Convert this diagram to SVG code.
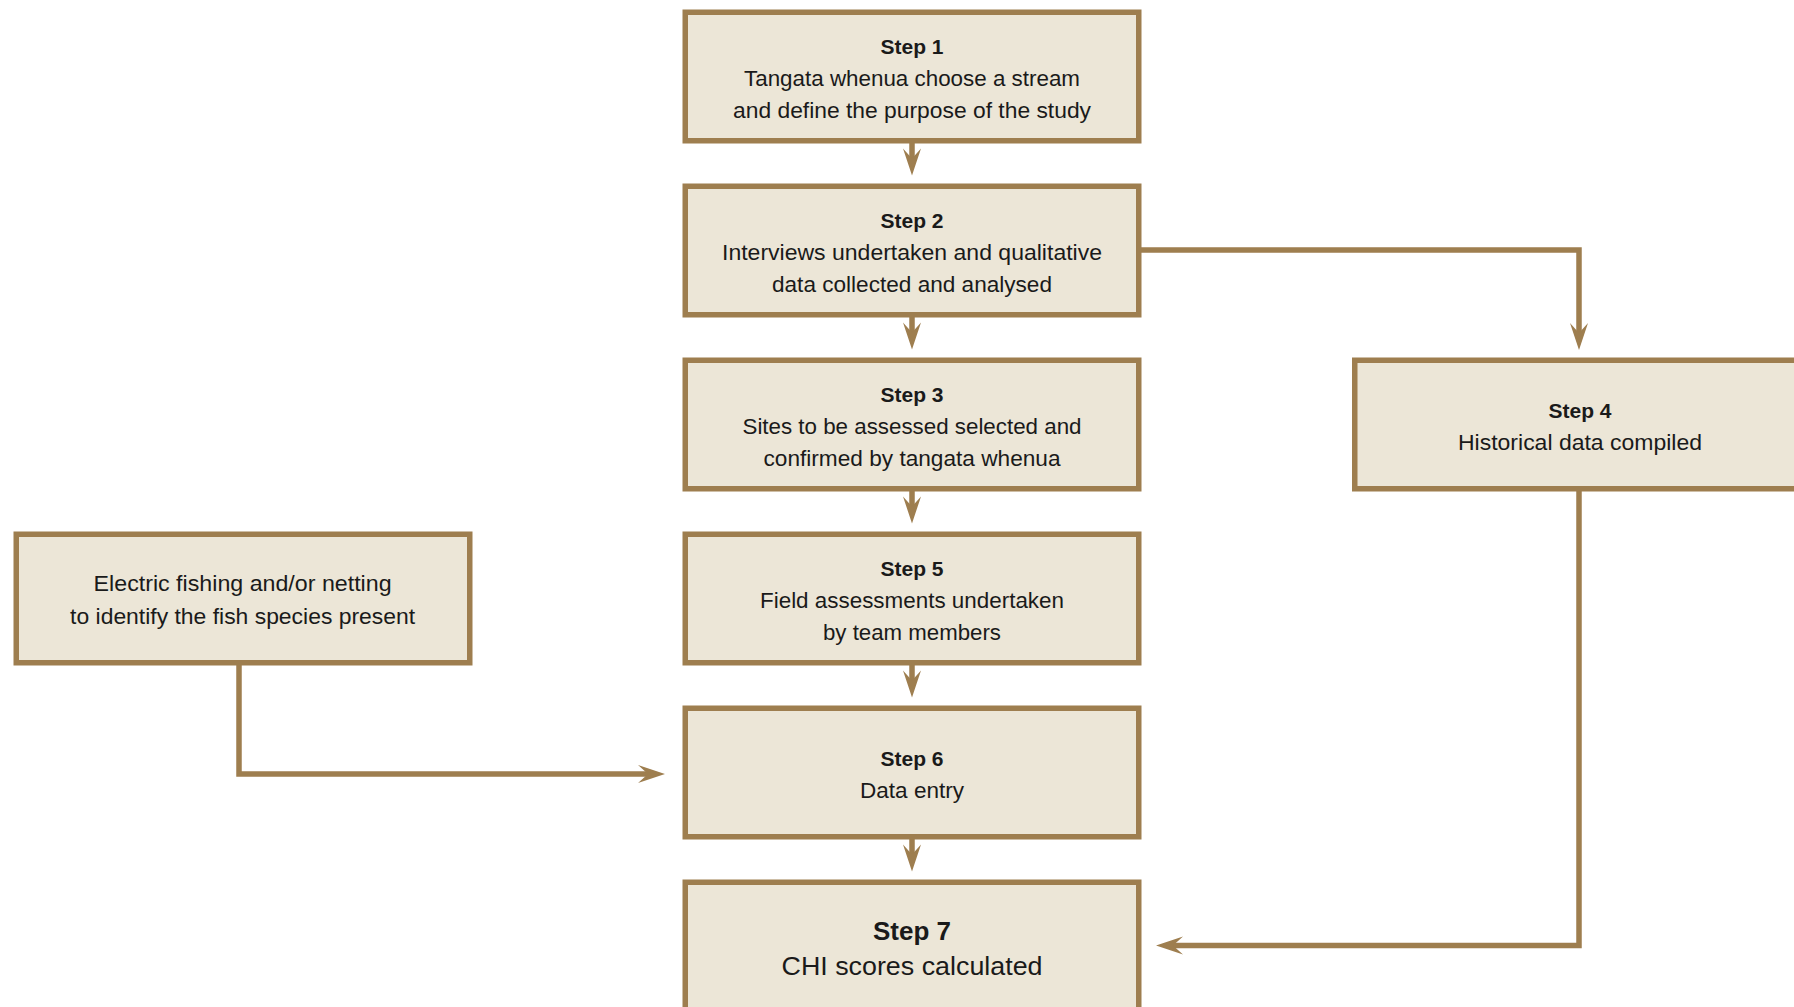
<svg xmlns="http://www.w3.org/2000/svg" width="1794" height="1007" viewBox="0 0 1794 1007">
<style>
.box{fill:#ECE6D7;stroke:#9E7E4F;stroke-width:5.5}
.t{font-family:"Liberation Sans",Arial,sans-serif;font-size:22px;fill:#1a1a1a;text-anchor:middle}
.b{font-weight:bold;font-size:21px}
.c{fill:none;stroke:#9E7E4F;stroke-width:5.5}
</style>
<defs>
<marker id="ah" viewBox="-28 -10 30 20" refX="-16" refY="0" markerWidth="30" markerHeight="20" markerUnits="userSpaceOnUse" orient="auto">
<path d="M0,0 L-27,-9 L-17,0 L-27,9 Z" fill="#9E7E4F"/>
</marker>
</defs>
<rect width="1794" height="1007" fill="#ffffff"/>
<g id="connectors">
<line class="c" x1="912" y1="143" x2="912" y2="159.5" marker-end="url(#ah)"/>
<line class="c" x1="912" y1="317" x2="912" y2="333.5" marker-end="url(#ah)"/>
<line class="c" x1="912" y1="491" x2="912" y2="507.5" marker-end="url(#ah)"/>
<line class="c" x1="912" y1="665" x2="912" y2="681.5" marker-end="url(#ah)"/>
<line class="c" x1="912" y1="839" x2="912" y2="855.5" marker-end="url(#ah)"/>
<polyline class="c" points="1141,250 1579,250 1579,334" marker-end="url(#ah)"/>
<polyline class="c" points="1579,490 1579,945.5 1172,945.5" marker-end="url(#ah)"/>
<polyline class="c" points="239,665 239,774 649,774" marker-end="url(#ah)"/>
</g>
<g id="step1">
<rect class="box" x="685.25" y="12.25" width="453.5" height="128.5"/>
<text class="t b" x="912" y="53.5">Step 1</text>
<text class="t" x="912" y="86" textLength="336" lengthAdjust="spacingAndGlyphs">Tangata whenua choose a stream</text>
<text class="t" x="912" y="118" textLength="358" lengthAdjust="spacingAndGlyphs">and define the purpose of the study</text>
</g>
<g id="step2">
<rect class="box" x="685.25" y="186.25" width="453.5" height="128.5"/>
<text class="t b" x="912" y="227.5">Step 2</text>
<text class="t" x="912" y="260" textLength="380" lengthAdjust="spacingAndGlyphs">Interviews undertaken and qualitative</text>
<text class="t" x="912" y="292" textLength="280" lengthAdjust="spacingAndGlyphs">data collected and analysed</text>
</g>
<g id="step3">
<rect class="box" x="685.25" y="360.25" width="453.5" height="128.5"/>
<text class="t b" x="912" y="401.5">Step 3</text>
<text class="t" x="912" y="434" textLength="339" lengthAdjust="spacingAndGlyphs">Sites to be assessed selected and</text>
<text class="t" x="912" y="466" textLength="297" lengthAdjust="spacingAndGlyphs">confirmed by tangata whenua</text>
</g>
<g id="step4">
<rect class="box" x="1354.75" y="360.25" width="600" height="128.5"/>
<text class="t b" x="1580" y="417.5">Step 4</text>
<text class="t" x="1580" y="449.5" textLength="244" lengthAdjust="spacingAndGlyphs">Historical data compiled</text>
</g>
<g id="step5">
<rect class="box" x="685.25" y="534.25" width="453.5" height="128.5"/>
<text class="t b" x="912" y="575.5">Step 5</text>
<text class="t" x="912" y="608" textLength="304" lengthAdjust="spacingAndGlyphs">Field assessments undertaken</text>
<text class="t" x="912" y="640" textLength="178" lengthAdjust="spacingAndGlyphs">by team members</text>
</g>
<g id="fishing">
<rect class="box" x="16.25" y="534.25" width="453.5" height="128.5"/>
<text class="t" x="242.6" y="591" textLength="298" lengthAdjust="spacingAndGlyphs">Electric fishing and/or netting</text>
<text class="t" x="242.6" y="623.5" textLength="345" lengthAdjust="spacingAndGlyphs">to identify the fish species present</text>
</g>
<g id="step6">
<rect class="box" x="685.25" y="708.25" width="453.5" height="128.5"/>
<text class="t b" x="912" y="765.5">Step 6</text>
<text class="t" x="912" y="797.5" textLength="104" lengthAdjust="spacingAndGlyphs">Data entry</text>
</g>
<g id="step7">
<rect class="box" x="685.25" y="882.25" width="453.5" height="200"/>
<text class="t b" x="912" y="940" style="font-size:26px">Step 7</text>
<text class="t" x="912" y="974.5" style="font-size:26.5px" textLength="261" lengthAdjust="spacingAndGlyphs">CHI scores calculated</text>
</g>
</svg>
